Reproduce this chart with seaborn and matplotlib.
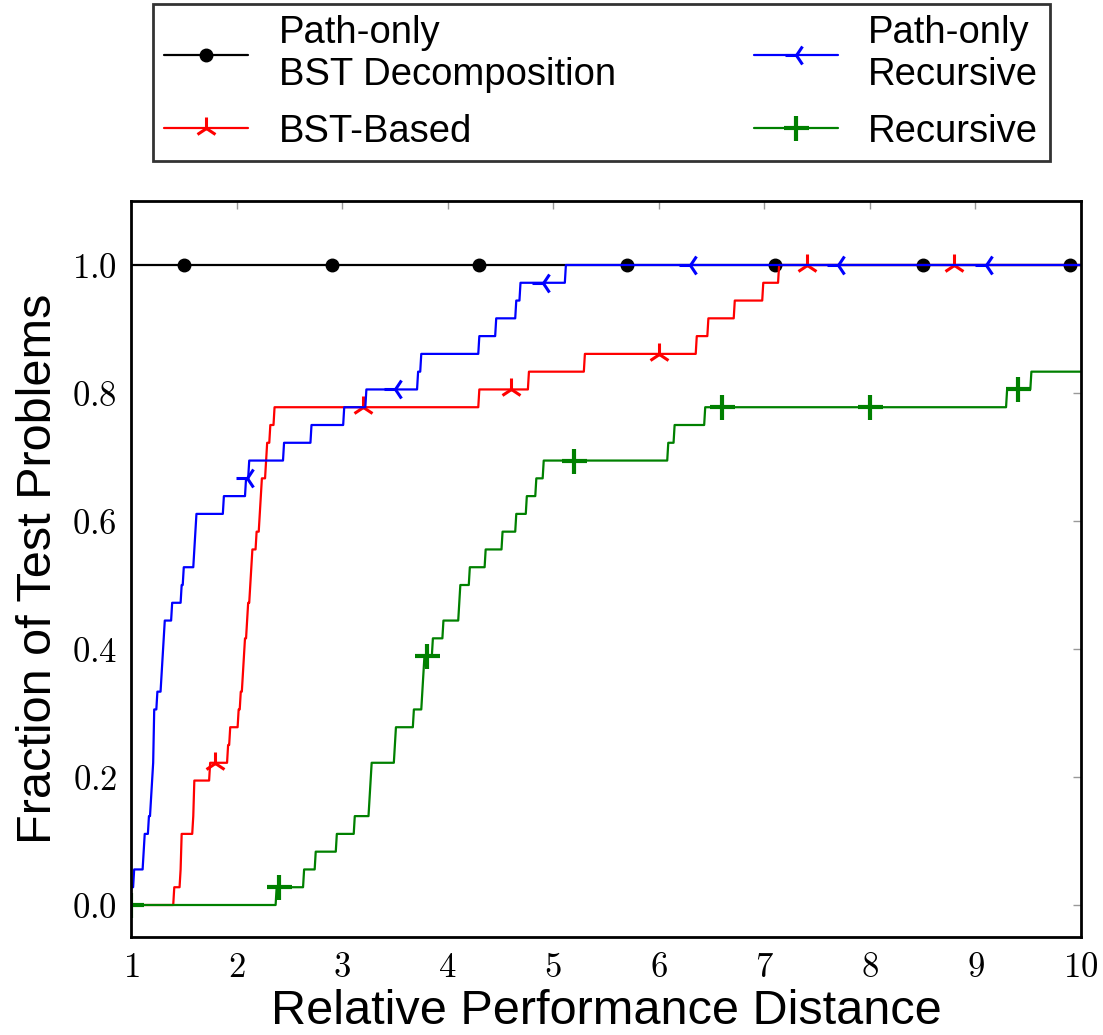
import numpy as np
import pandas as pd
import matplotlib
matplotlib.use("Agg")
import matplotlib.pyplot as plt
import seaborn as sns

# ---- data: performance ratios of 36 test problems per method ----
labels = ["Path-only\nBST Decomposition", "BST-Based", "Path-only\nRecursive", "Recursive"]
colors = ["black", "red", "blue", "green"]
markers = ["o", "2", "3", "+"]

ratios_black = [1.0] * 36
ratios_red = [1.41, 1.47, 1.475, 1.48, 1.59, 1.595, 1.60, 1.75, 1.92, 1.94,
              2.02, 2.04, 2.06, 2.07, 2.08, 2.10, 2.11, 2.13, 2.14, 2.15,
              2.19, 2.22, 2.23, 2.24, 2.28, 2.29, 2.32, 2.36, 4.30, 4.77,
              5.30, 6.36, 6.47, 6.72, 6.99, 7.14]
ratios_blue = [1.0, 1.03, 1.12, 1.13, 1.17, 1.19, 1.20, 1.21, 1.215, 1.217,
               1.22, 1.25, 1.29, 1.30, 1.31, 1.32, 1.385, 1.48, 1.50, 1.60,
               1.61, 1.62, 1.88, 2.09, 2.12, 2.45, 2.71, 3.02, 3.23, 3.72,
               3.75, 4.30, 4.46, 4.65, 4.69, 5.12]
ratios_green = [2.38, 2.64, 2.75, 2.95, 3.12, 3.26, 3.27, 3.28, 3.50, 3.51,
                3.68, 3.76, 3.77, 3.78, 3.86, 3.96, 4.11, 4.12, 4.21, 4.36,
                4.52, 4.65, 4.75, 4.84, 4.91, 6.09, 6.15, 6.44, 9.30, 9.53,
                np.inf, np.inf, np.inf, np.inf, np.inf, np.inf]

xticks = [1, 2, 3, 4, 5, 6, 7, 8, 9, 10]
yticks = [0.0, 0.2, 0.4, 0.6, 0.8, 1.0]

all_ratios = [ratios_black, ratios_red, ratios_blue, ratios_green]
tau = np.linspace(1, 10, 901)

frames = []
for lab, r in zip(labels, all_ratios):
    r = np.asarray(r)
    prof = (r[None, :] <= tau[:, None] + 1e-9).mean(axis=1)
    frames.append(pd.DataFrame({"tau": tau, "frac": prof, "method": lab}))
df = pd.concat(frames, ignore_index=True)

sns.set_style("white")
plt.rcParams["font.family"] = ["Liberation Sans", "DejaVu Sans"]
plt.rcParams["mathtext.fontset"] = "cm"
for k in ["text.color", "axes.labelcolor", "xtick.labelcolor", "ytick.labelcolor"]:
    plt.rcParams[k] = "black"

fig = plt.figure(figsize=(11.03, 10.35), dpi=100)
ax = fig.add_axes([131 / 1103, 1 - 937 / 1035, 950 / 1103, 736 / 1035])

offsets = [50, 80, 110, 0]
msizes = [9, 16, 16, 18]
mews = [1, 2.2, 2.2, 3]
handles = []
for lab, c, m, off, ms, mew in zip(labels, colors, markers, offsets, msizes, mews):
    sub = df[df["method"] == lab]
    sns.lineplot(data=sub, x="tau", y="frac", ax=ax, color=c, marker=m,
                 markevery=(off, 140), markersize=ms, markeredgewidth=mew,
                 markeredgecolor=c, linewidth=1.6, estimator=None,
                 legend=False)
    handles.append(ax.lines[-1])

ax.set_xlim(1, 10)
ax.set_ylim(-0.05, 1.1)
ax.set_xticks(xticks)
ax.set_xticklabels([f"${t}$" for t in xticks], fontsize=25)
ax.set_yticks(yticks)
ax.set_yticklabels([f"${t:.1f}$" for t in yticks], fontsize=25)
ax.tick_params(direction="in", length=6, width=1, color="#999999",
               labelcolor="black", top=True, right=True, pad=10)
for sp in ax.spines.values():
    sp.set_visible(True)
    sp.set_color("black")
    sp.set_linewidth(2)

ax.set_xlabel("Relative Performance Distance", fontsize=35, labelpad=4, color="black")
ax.set_ylabel("Fraction of Test Problems", fontsize=35, labelpad=8, color="black")

leg = ax.legend(handles, labels, loc="upper center", bbox_to_anchor=(0.495, 1.268),
                ncol=2, fontsize=27.5, frameon=True, fancybox=False,
                borderaxespad=0, columnspacing=3.6, handlelength=2.2,
                handletextpad=0.8, labelspacing=0.55, borderpad=0.3)
leg.get_frame().set_edgecolor("black")
leg.get_frame().set_linewidth(2)
for t in leg.get_texts():
    t.set_color("black")

fig.savefig("out.png", dpi=100)
